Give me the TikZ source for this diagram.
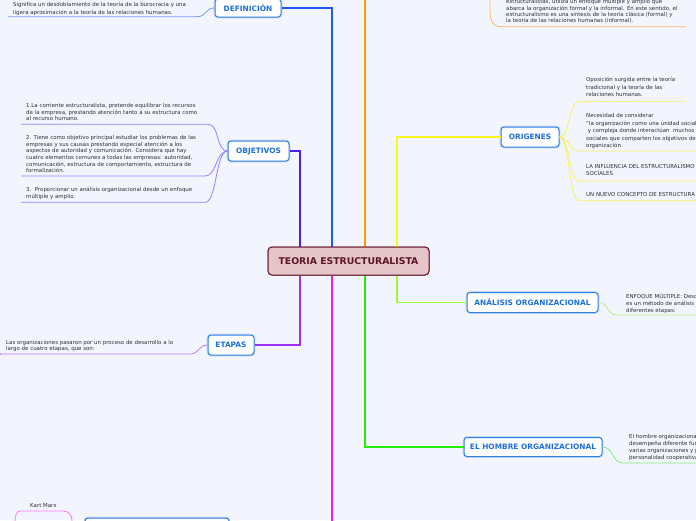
\documentclass[tikz,border=0pt]{standalone}
\usepackage{fontspec}
\setmainfont{DejaVu Sans}
\definecolor{bg}{HTML}{F3F5FE}
\definecolor{txtc}{HTML}{2F2F2F}
\definecolor{topicb}{HTML}{2E7FE0}
\definecolor{topicg}{HTML}{C4DAF6}
\definecolor{topict}{HTML}{1E6FD9}
\definecolor{cfill}{HTML}{E6C5CA}
\definecolor{cdraw}{HTML}{6A1A2C}
\definecolor{ctext}{HTML}{5B1425}
\definecolor{lviolet}{HTML}{4B1EF0}
\definecolor{lblue}{HTML}{1E5AF5}
\definecolor{lorange}{HTML}{FF9A00}
\definecolor{lyellow}{HTML}{F8F820}
\definecolor{lpurple}{HTML}{A030F0}
\definecolor{lmagenta}{HTML}{F022D8}
\definecolor{lgreen}{HTML}{22EE00}
\definecolor{llime}{HTML}{99FF33}
\definecolor{sblue}{HTML}{7A99F0}
\definecolor{sviolet}{HTML}{9A7CFF}
\definecolor{syellow}{HTML}{F7F260}
\definecolor{slime}{HTML}{B8EE80}
\definecolor{sgreen}{HTML}{80EE80}
\definecolor{spurple}{HTML}{C27AF0}
\definecolor{spink}{HTML}{FF7AF0}
\definecolor{sorange}{HTML}{FFB860}
\begin{document}
\begin{tikzpicture}[x=1pt,y=-1pt,
  txt/.style={anchor=north west, inner sep=0pt, align=left, text=txtc,
    font=\fontsize{5.45}{#1}\selectfont},
  txt/.default=6.7,
  topic/.style={draw=topicb, line width=1pt, fill=white, rounded corners=3pt,
    text=topict, font=\fontsize{7.4}{8}\selectfont\bfseries, inner sep=0pt,
    preaction={draw=topicg, line width=2.6pt}},
  central/.style={draw=cdraw, line width=1pt, fill=cfill, rounded corners=4pt,
    text=ctext, font=\fontsize{9.3}{10}\selectfont\bfseries, inner sep=0pt,
    minimum width=161pt, minimum height=28pt},
  mainline/.style={line width=1.6pt},
  subline/.style={line width=0.8pt}]
\useasboundingbox (0,0) rectangle (696,520);
\fill[bg] (0,0) rectangle (696,520);
\clip (0,0) rectangle (696,520);

% column coordinates
\coordinate (x1) at (300,0);
\coordinate (x2) at (332,0);
\coordinate (x3) at (365,0);
\coordinate (x4) at (397,0);
\coordinate (topend) at (365,-10);
\coordinate (botend) at (332,530);

% nodes
\node[central] (c) at (348.5,261) {TEORIA ESTRUCTURALISTA};
\node[topic, minimum width=66pt, minimum height=18pt] (def) at (248,8) {DEFINICIÓN};
\node[topic, minimum width=61pt, minimum height=20pt] (obj) at (258.5,151) {OBJETIVOS};
\node[topic, minimum width=58pt, minimum height=20pt] (ori) at (530,137) {ORIGENES};
\node[topic, minimum width=131pt, minimum height=20pt] (ana) at (532.5,302.5) {ANÁLISIS ORGANIZACIONAL};
\node[topic, minimum width=138pt, minimum height=19pt] (hom) at (533,447) {EL HOMBRE ORGANIZACIONAL};
\node[topic, minimum width=46pt, minimum height=20pt] (eta) at (231,345) {ETAPAS};
\node[topic, minimum width=144pt, minimum height=24pt] (bot) at (157,530) {};

% main connectors
\draw[mainline, lblue] (c.north -| x2) |- (def.east);
\draw[mainline, lviolet] (c.north -| x1) |- (obj.east);
\draw[mainline, lorange] (c.north -| x3) -- (topend);
\draw[mainline, lyellow] (c.north -| x4) |- (ori.west);
\draw[mainline, lpurple] (c.south -| x1) |- (eta.east);
\draw[mainline, lmagenta] (c.south -| x2) -- (botend);
\draw[mainline, lgreen] (c.south -| x3) |- (hom.west);
\draw[mainline, llime] (c.south -| x4) |- (ana.west);

% redraw central node above lines
\node[central] at (c) {TEORIA ESTRUCTURALISTA};

% text nodes
\node[txt=7.3] (tdef) at (13,2.4) {Significa un desdoblamiento de la teoría de la burocracia y una\\ligera aproximación a la teoría de las relaciones humanas.};
\node[txt=6.5] (to1) at (26,103.4) {1.La corriente estructuralista, pretende equilibrar los recursos\\de la empresa, prestando atención tanto a su estructura como\\al recurso humano.};
\node[txt=6.7] (to2) at (26,135.1) {2. Tiene como objetivo principal estudiar los problemas de las\\empresas y sus causas prestando especial atención a los\\aspectos de autoridad y comunicación. Considera que hay\\cuatro elementos comunes a todas las empresas: autoridad,\\comunicación, estructura de comportamiento, estructura de\\formalización.};
\node[txt=7.3] (to3) at (26,187.1) {3.\ \ Proporcionar un análisis organizacional desde un enfoque\\múltiple y amplio.};
\node[txt=7.5] (tr1) at (586,77.4) {Oposición surgida entre la teoría\\tradicional y la teoría de las\\relaciones humanas.};
\node[txt=7.6] (tr2) at (586,113.1) {Necesidad de considerar\\``la organización como una unidad social grande\\\ y compleja donde interactúan\ \ muchos grupos\\sociales que comparten los objetivos de la\\organización};
\node[txt=6.7] (tr3) at (586,164.7) {LA INFLUENCIA DEL ESTRUCTURALISMO EN LAS CIENCIAS\\SOCIALES};
\node[txt=6.7] (tr4) at (586,192.1) {UN NUEVO CONCEPTO DE ESTRUCTURA};
\node[txt=6.7] (tan) at (626,293.4) {ENFOQUE MÚLTIPLE: Describe que\\es un método de análisis que\\diferentes etapas:};
\node[txt=6.8] (thm) at (629,434.4) {El hombre organizacional es aquel que\\desempeña diferente funciones en\\varias organizaciones y posee una\\personalidad cooperativa y colectivista.};
\node[txt=6.0] (tet) at (6,339.7) {Las organizaciones pasaron por un proceso de desarrollo a lo\\largo de cuatro etapas, que son:};
\node[txt=6.3] (tor) at (506,-0.8) {estructuralistas, utiliza un enfoque múltiple y amplio que\\abarca la organización formal y la informal. En este sentido, el\\estructuralismo es una síntesis de la teoría clásica (formal) y\\la teoría de las relaciones humanas (informal).};
\node[txt=6.7] (tkm) at (30,503.4) {Kart Marx};

% underline coordinates
\coordinate (udefa) at (8,16.7);   \coordinate (udefb) at (197,16.7);
\coordinate (uo1a) at (21,124.3);  \coordinate (uo1b) at (208,124.3);
\coordinate (uo2a) at (21,176);    \coordinate (uo2b) at (205,176);
\coordinate (uo3a) at (21,202.3);  \coordinate (uo3b) at (205,202.3);
\coordinate (ur1a) at (579,101.3); \coordinate (ur1b) at (685,101.3);
\coordinate (ur2a) at (579,151);   \coordinate (ur2b) at (700,151);
\coordinate (ur3a) at (579,181);   \coordinate (ur3b) at (700,181);
\coordinate (ur4a) at (579,200.7); \coordinate (ur4b) at (700,200.7);
\coordinate (uana) at (617,315);   \coordinate (uanb) at (700,315);
\coordinate (uhma) at (623,463);   \coordinate (uhmb) at (700,463);
\coordinate (ueta) at (190,354);   \coordinate (uetb) at (0,354);
\coordinate (uora) at (502,26.7);  \coordinate (uorb) at (686,26.7);
\coordinate (uotop) at (490,-5);   \coordinate (uomid) at (490,10);
\coordinate (ukm1) at (72,522);    \coordinate (ukm2) at (62,511);
\coordinate (ukm3) at (20,511);    \coordinate (ukm4) at (15,522);

% sub connectors
\draw[subline, sblue] (def.west) .. controls +(-10,0) and +(10,0) .. (udefb) -- (udefa);
\draw[subline, sviolet] (obj.west) .. controls +(-12,0) and +(12,0) .. (uo1b) -- (uo1a);
\draw[subline, sviolet] (obj.west) .. controls +(-12,0) and +(12,0) .. (uo2b) -- (uo2a);
\draw[subline, sviolet] (obj.west) .. controls +(-12,0) and +(12,0) .. (uo3b) -- (uo3a);
\draw[subline, syellow] (ori.east) .. controls +(10,0) and +(-10,0) .. (ur1a) -- (ur1b);
\draw[subline, syellow] (ori.east) .. controls +(10,0) and +(-10,0) .. (ur2a) -- (ur2b);
\draw[subline, syellow] (ori.east) .. controls +(10,0) and +(-10,0) .. (ur3a) -- (ur3b);
\draw[subline, syellow] (ori.east) .. controls +(10,0) and +(-10,0) .. (ur4a) -- (ur4b);
\draw[subline, slime] (ana.east) .. controls +(10,0) and +(-10,0) .. (uana) -- (uanb);
\draw[subline, sgreen] (hom.east) .. controls +(11,0) and +(-11,0) .. (uhma) -- (uhmb);
\draw[subline, spurple] (eta.west) .. controls +(-9,0) and +(9,0) .. (ueta) -- (uetb);
\fill[spurple] (uetb) circle (1.2pt);
\draw[subline, sorange] (uotop) -- (uomid) .. controls +(0,12) and +(-9,0) .. (uora) -- (uorb);
\draw[subline, spink] (ukm1) .. controls +(0,-8) and +(7,0) .. (ukm2) -- (ukm3) .. controls +(-4,0) and +(0,-5) .. (ukm4);
\end{tikzpicture}
\end{document}
